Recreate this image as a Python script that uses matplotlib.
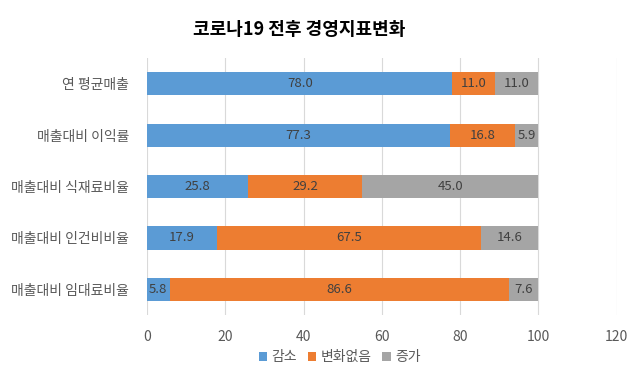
import matplotlib
matplotlib.use("Agg")
import matplotlib.pyplot as plt
import numpy as np

plt.rcParams["font.family"] = ["Noto Sans CJK KR", "DejaVu Sans"]

categories = ["연 평균매출", "매출대비 이익률", "매출대비 식재료비율", "매출대비 인건비비율", "매출대비 임대료비율"]
decrease = [78.0, 77.3, 25.8, 17.9, 5.8]
no_change = [11.0, 16.8, 29.2, 67.5, 86.6]
increase = [11.0, 5.9, 45.0, 14.6, 7.6]
series_names = ["감소", "변화없음", "증가"]
colors = ["#5B9BD5", "#ED7D31", "#A5A5A5"]

fig = plt.figure(figsize=(6.4, 3.8), dpi=100)
ax = fig.add_axes([0.2297, 0.171, 0.734, 0.676])

y = np.arange(len(categories))
left = np.zeros(len(categories))
for name, vals, c in zip(series_names, [decrease, no_change, increase], colors):
    bars = ax.barh(y, vals, left=left, height=0.45, color=c, label=name, zorder=3)
    ax.bar_label(bars, labels=[f"{v:.1f}" for v in vals], label_type="center",
                 fontsize=9.5, color="#404040")
    left += np.array(vals)

ax.set_yticks(y)
ax.set_yticklabels(categories, fontsize=10, color="#595959")
ax.set_ylim(len(categories) - 0.5, -0.5)
ax.set_xlim(0, 120)
ax.set_xticks(range(0, 121, 20))
ax.tick_params(axis="x", labelsize=10, colors="#595959", length=0, pad=11)
ax.tick_params(axis="y", length=0, pad=13)
ax.grid(axis="x", color="#D9D9D9", linewidth=0.8, zorder=0)
for s in ax.spines.values():
    s.set_visible(False)

fig.suptitle("코로나19 전후 경영지표변화", x=0.467, y=0.948, fontsize=13, fontweight="bold", color="#000000")
ax.legend(loc="center", bbox_to_anchor=(0.41, -0.165), ncol=3, frameon=False, fontsize=10,
          handlelength=0.6, handleheight=0.6, handletextpad=0.3, columnspacing=0.8,
          labelcolor="#595959")

fig.savefig("out.png", dpi=100)
